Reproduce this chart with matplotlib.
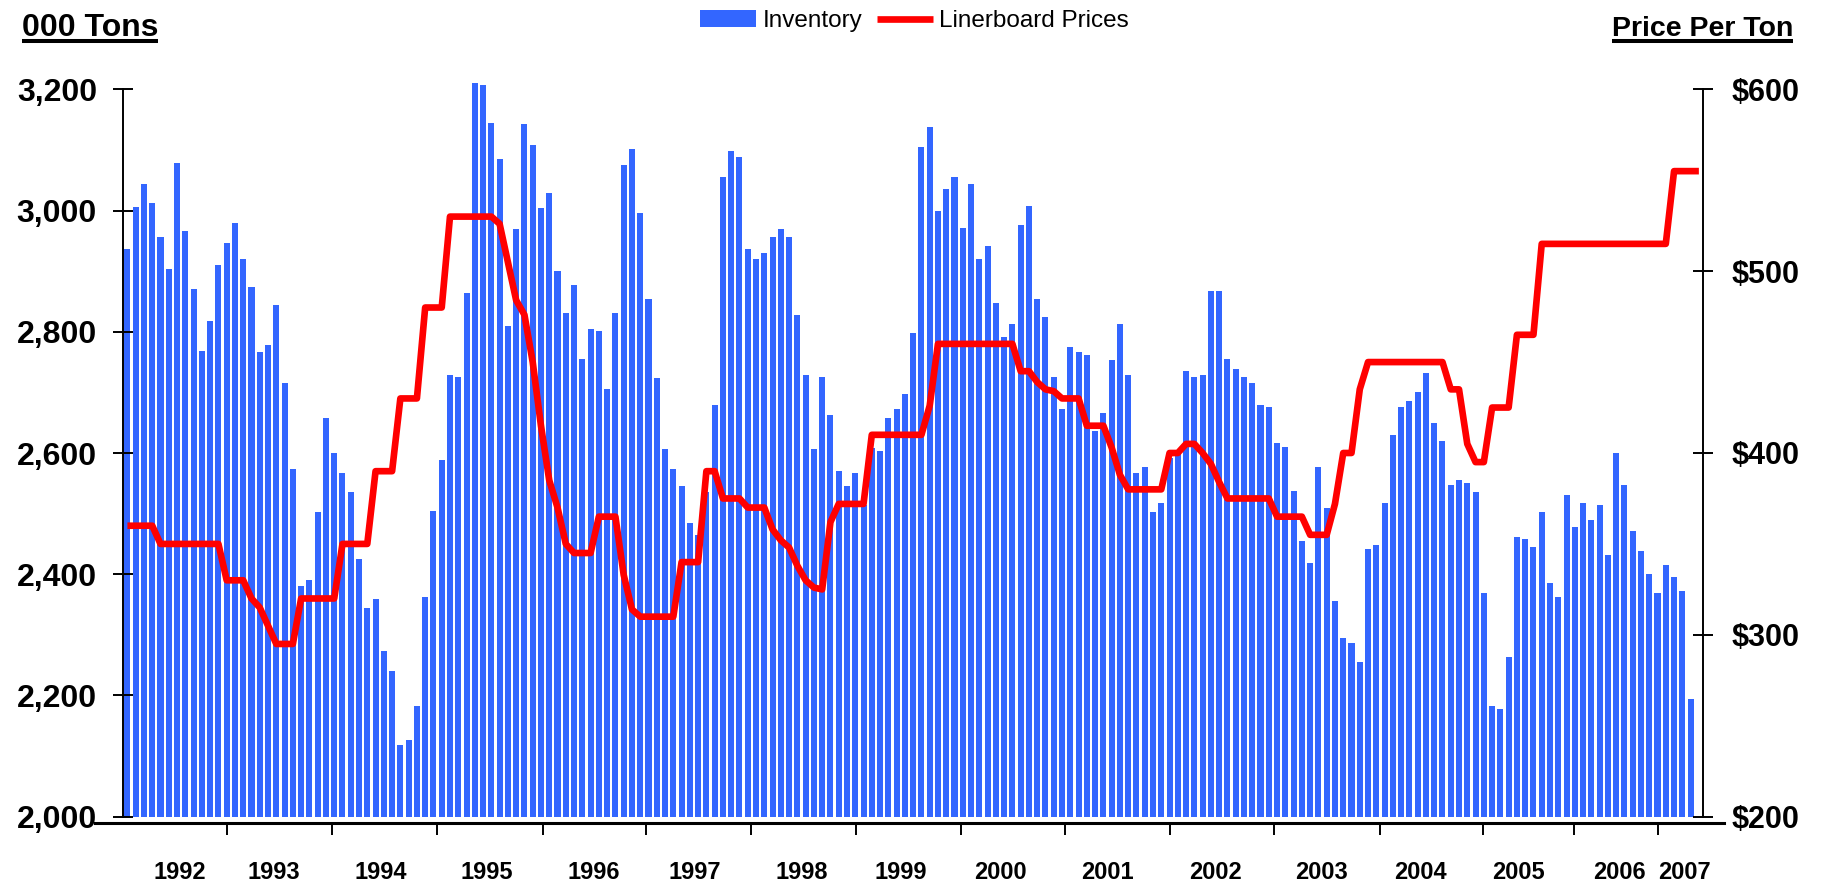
import matplotlib
matplotlib.use("Agg")
import matplotlib.pyplot as plt
from matplotlib.ticker import FuncFormatter, FixedLocator
from matplotlib.lines import Line2D

plt.rcParams['font.family'] = ['Liberation Sans', 'DejaVu Sans']

# monthly inventory, 000 tons (Jan 1992 .. early 2007)
inventory = [
    2937, 3006, 3043, 3012, 2956, 2904, 3078, 2966, 2871, 2769, 2818, 2910,
    2947, 2980, 2920, 2874, 2766, 2778, 2844, 2716, 2573, 2380, 2390, 2503,
    2657, 2600, 2567, 2535, 2425, 2345, 2359, 2274, 2241, 2118, 2126, 2182,
    2363, 2505, 2588, 2729, 2725, 2864, 3211, 3207, 3145, 3085, 2809, 2969,
    3142, 3108, 3004, 3029, 2900, 2831, 2877, 2755, 2805, 2801, 2705, 2831,
    3075, 3102, 2996, 2854, 2723, 2606, 2573, 2545, 2485, 2464, 2535, 2679,
    3055, 3099, 3089, 2937, 2920, 2930, 2956, 2969, 2956, 2828, 2729, 2606,
    2725, 2663, 2570, 2545, 2567, 2514, 2609, 2603, 2657, 2673, 2697, 2798,
    3105, 3138, 3000, 3036, 3056, 2971, 3043, 2920, 2941, 2848, 2792, 2812,
    2976, 3007, 2854, 2825, 2725, 2672, 2775, 2766, 2762, 2637, 2666, 2753,
    2812, 2729, 2567, 2577, 2502, 2517, 2592, 2598, 2736, 2725, 2729, 2867,
    2867, 2755, 2739, 2725, 2715, 2679, 2676, 2617, 2610, 2537, 2455, 2419,
    2577, 2510, 2356, 2294, 2287, 2256, 2442, 2449, 2518, 2630, 2676, 2686,
    2700, 2732, 2649, 2620, 2548, 2556, 2550, 2535, 2369, 2182, 2177, 2264,
    2461, 2458, 2445, 2502, 2385, 2362, 2531, 2478, 2517, 2489, 2514, 2432,
    2600, 2548, 2471, 2439, 2401, 2369, 2415, 2396, 2372, 2194,
]

# linerboard price, $ per ton
price = [
    360, 360, 360, 360, 350, 350, 350, 350, 350, 350, 350, 350,
    330, 330, 330, 320, 315, 305, 295, 295, 295, 320, 320, 320,
    320, 320, 350, 350, 350, 350, 390, 390, 390, 430, 430, 430,
    480, 480, 480, 530, 530, 530, 530, 530, 530, 526, 505, 484,
    476, 450, 415, 385, 370, 350, 345, 345, 345, 365, 365, 365,
    333, 314, 310, 310, 310, 310, 310, 340, 340, 340, 390, 390,
    375, 375, 375, 370, 370, 370, 358, 352, 348, 338, 330, 326,
    325, 362, 372, 372, 372, 372, 410, 410, 410, 410, 410, 410,
    410, 426, 460, 460, 460, 460, 460, 460, 460, 460, 460, 460,
    445, 445, 439, 435, 434, 430, 430, 430, 415, 415, 415, 403,
    388, 380, 380, 380, 380, 380, 400, 400, 405, 405, 400, 394,
    384, 375, 375, 375, 375, 375, 375, 365, 365, 365, 365, 355,
    355, 355, 372, 400, 400, 435, 450, 450, 450, 450, 450, 450,
    450, 450, 450, 450, 435, 435, 405, 395, 395, 425, 425, 425,
    465, 465, 465, 515, 515, 515, 515, 515, 515, 515, 515, 515,
    515, 515, 515, 515, 515, 515, 515, 555, 555, 555, 555,
]

years = ['1992', '1993', '1994', '1995', '1996', '1997', '1998', '1999',
         '2000', '2001', '2002', '2003', '2004', '2005', '2006', '2007']

# where the year marks sit along the month axis (as drawn in the original)
year_ticks = [12.06, 24.73, 37.4, 50.24, 62.73, 75.4, 88.07, 100.74,
              113.41, 126.1, 138.6, 151.5, 163.9, 174.9, 185.1]
year_label_pos = [6.35, 17.7, 30.6, 43.5, 56.4, 68.6, 81.5, 93.5,
                  105.6, 118.5, 131.5, 144.4, 156.3, 168.2, 180.4, 188.3]

BASE = 2000

W, H = 1837, 882
fig = plt.figure(figsize=(W / 100, H / 100), dpi=100)
ax = fig.add_axes([123.3 / W, 1 - 816.7 / H, (1703 - 123.3) / W, (816.7 - 89.3) / H])

# bars start at the 2,000 floor; the tallest ones poke above the 3,200 mark
bars = ax.bar(range(len(inventory)), [v - BASE for v in inventory], bottom=BASE,
              width=0.73, color='#3366FF', label='Inventory', clip_on=False)
ax.set_xlim(-0.5, len(price) - 0.5)
ax.set_ylim(BASE, 3200)
ax.set_yticks(range(2000, 3201, 200))
ax.yaxis.set_major_formatter(FuncFormatter(lambda v, p: f'{int(v):,}'))

ax2 = ax.twinx()
line, = ax2.plot(range(len(price)), price, color='#FF0000', lw=4.8,
                 solid_joinstyle='round', solid_capstyle='butt',
                 label='Linerboard Prices')
ax2.set_ylim(200, 600)
ax2.set_yticks(range(200, 601, 100))
ax2.yaxis.set_major_formatter(FuncFormatter(lambda v, p: f'${int(v)}'))

for s in ['top', 'right']:
    ax.spines[s].set_visible(False)
for s in ['top', 'bottom', 'left']:
    ax2.spines[s].set_visible(False)
ax.spines['left'].set_linewidth(1.4)
ax2.spines['right'].set_linewidth(1.4)

# bottom axis line sits a little below the 2,000 baseline and runs past both axes
ax.spines['bottom'].set_position(('outward', 4.4))
ax.spines['bottom'].set_bounds(-3.9, 193.0)
ax.spines['bottom'].set_linewidth(2.2)

ax.xaxis.set_major_locator(FixedLocator(year_ticks))
ax.xaxis.set_minor_locator(FixedLocator(year_label_pos))
ax.set_xticklabels([], minor=False)
ax.set_xticklabels(years, minor=True)
ax.tick_params(axis='x', which='major', direction='out', length=8.6, width=1.4,
               labelbottom=False)
ax.tick_params(axis='x', which='minor', length=0, pad=27.5, labelsize=17)
for t in ax.get_xticklabels(minor=True):
    t.set_fontweight('bold')

ax.tick_params(axis='y', direction='inout', length=15, width=1.4, pad=11.5,
               labelsize=23)
ax2.tick_params(axis='y', direction='inout', length=15, width=1.4, pad=13,
                labelsize=22)
for t in ax.get_yticklabels() + ax2.get_yticklabels():
    t.set_fontweight('bold')

# axis titles, underlined
t_left = fig.text(21.7 / W, 1 - 36 / H, '000 Tons', fontsize=23,
                  fontweight='bold', ha='left', va='baseline')
t_right = fig.text(1793 / W, 1 - 36 / H, 'Price Per Ton', fontsize=20.5,
                   fontweight='bold', ha='right', va='baseline')
fig.canvas.draw()
for t in (t_left, t_right):
    bb = t.get_window_extent()
    yl = 1 - 40.5 / H
    fig.add_artist(Line2D([bb.x0 / W, bb.x1 / W], [yl, yl], color='black',
                          lw=2.9, solid_capstyle='butt'))

fig.legend(handles=[bars, line], labels=['Inventory', 'Linerboard Prices'],
           loc='center', bbox_to_anchor=(0.4978, 1 - 21 / H), ncol=2,
           frameon=False, fontsize=17.5, handlelength=2.3, handletextpad=0.25,
           columnspacing=0.6, borderaxespad=0, borderpad=0)

fig.savefig('out.png', dpi=100)
